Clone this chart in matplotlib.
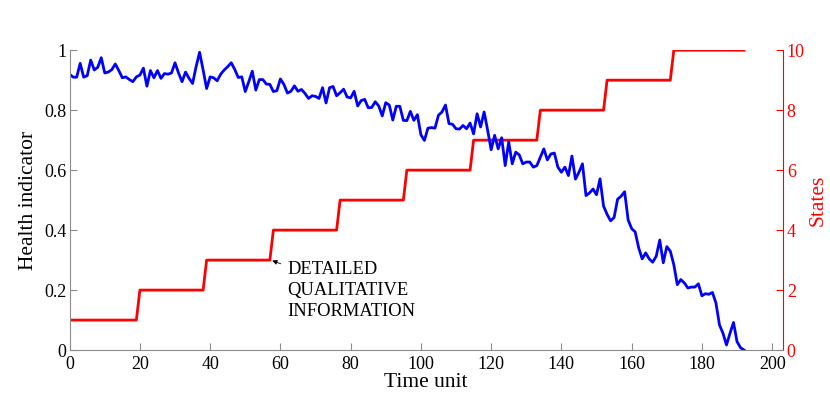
import numpy as np
import matplotlib
matplotlib.use("Agg")
import matplotlib.pyplot as plt

plt.rcParams['font.family'] = ['Liberation Serif', 'DejaVu Serif']

# health indicator, one value per time unit (t = 0..192)
health = [
    0.920, 0.910, 0.910, 0.956, 0.910, 0.915, 0.967, 0.934, 0.943, 0.975,
    0.924, 0.927, 0.935, 0.954, 0.932, 0.908, 0.911, 0.902, 0.895, 0.911,
    0.917, 0.940, 0.880, 0.932, 0.908, 0.932, 0.906, 0.922, 0.920, 0.924,
    0.958, 0.924, 0.895, 0.927, 0.906, 0.889, 0.945, 0.993, 0.934, 0.872,
    0.911, 0.908, 0.898, 0.920, 0.934, 0.945, 0.958, 0.936, 0.909, 0.911,
    0.862, 0.895, 0.930, 0.867, 0.902, 0.902, 0.887, 0.886, 0.862, 0.865,
    0.904, 0.886, 0.857, 0.863, 0.881, 0.863, 0.869, 0.856, 0.839, 0.848,
    0.846, 0.839, 0.875, 0.824, 0.875, 0.879, 0.848, 0.858, 0.870, 0.844,
    0.841, 0.863, 0.814, 0.832, 0.836, 0.808, 0.809, 0.828, 0.814, 0.781,
    0.825, 0.817, 0.767, 0.813, 0.813, 0.766, 0.765, 0.796, 0.766, 0.785,
    0.718, 0.699, 0.740, 0.742, 0.740, 0.783, 0.794, 0.817, 0.755, 0.753,
    0.738, 0.737, 0.749, 0.738, 0.757, 0.721, 0.788, 0.744, 0.794, 0.733,
    0.668, 0.716, 0.671, 0.708, 0.615, 0.694, 0.621, 0.660, 0.651, 0.621,
    0.627, 0.627, 0.610, 0.615, 0.643, 0.671, 0.634, 0.654, 0.657, 0.610,
    0.593, 0.610, 0.582, 0.647, 0.570, 0.593, 0.621, 0.515, 0.524, 0.537,
    0.518, 0.571, 0.480, 0.453, 0.431, 0.442, 0.503, 0.513, 0.528, 0.434,
    0.405, 0.394, 0.341, 0.304, 0.324, 0.304, 0.293, 0.313, 0.367, 0.291,
    0.345, 0.330, 0.285, 0.218, 0.235, 0.224, 0.207, 0.210, 0.210, 0.221,
    0.181, 0.188, 0.186, 0.192, 0.157, 0.084, 0.056, 0.017, 0.056, 0.092,
    0.028, 0.008, 0.000,
]
t = np.arange(len(health))

# states and the last time unit spent in each one
state_values = [1, 2, 3, 4, 5, 6, 7, 8, 9, 10]
state_last_t = [19, 38, 57, 76, 95, 114, 133, 152, 171, 192]
lengths = np.diff([-1] + state_last_t)
states = np.repeat(state_values, lengths)

fig = plt.figure(figsize=(8.3, 4.08), dpi=100)
ax = fig.add_axes([0.0839, 0.142, 0.8591, 0.735])
ax2 = ax.twinx()
ax.set_zorder(ax2.get_zorder() + 1)
ax.patch.set_visible(False)

ax.plot(t, health, color=(0, 0, 1), lw=2)
ax2.plot(t, states, color=(1, 0, 0), lw=2)

ax.set_xlim(0, 203)
ax.set_ylim(0, 1)
ax2.set_ylim(0, 10)
ax.set_xticks(np.arange(0, 201, 20))
ax.set_yticks(np.arange(0, 1.01, 0.2))
ax.set_yticklabels(['0', '0.2', '0.4', '0.6', '0.8', '1'])
ax2.set_yticks(np.arange(0, 11, 2))

gray = '#8c8c8c'
for a in (ax, ax2):
    a.spines['top'].set_visible(False)
ax.spines['right'].set_visible(False)
ax.spines['left'].set_color(gray)
ax.spines['bottom'].set_color(gray)
ax2.spines['left'].set_visible(False)
ax2.spines['bottom'].set_visible(False)
ax2.spines['right'].set_color('red')

ax.tick_params(direction='in', length=5, color=gray, labelsize=13)
ax.tick_params(axis='x', pad=4)
ax.tick_params(axis='y', pad=2.5)
ax2.tick_params(direction='in', length=5, color='red', labelcolor='red',
                labelsize=13, pad=3)

ax.set_xlabel('Time unit', fontsize=15.5, labelpad=0)
ax.set_ylabel('Health indicator', fontsize=15.5, labelpad=4)
ax2.set_ylabel('States', fontsize=15.5, color='red', labelpad=3)

ax2.annotate('DETAILED\nQUALITATIVE\nINFORMATION', xy=(57.3, 3.0),
             xytext=(62, 2.97), fontsize=13.3, va='top', ha='left',
             linespacing=1.3,
             arrowprops=dict(arrowstyle='-|>', color='black', lw=0.6,
                             mutation_scale=7, shrinkA=3, shrinkB=1))

fig.savefig('out.png', dpi=100)
